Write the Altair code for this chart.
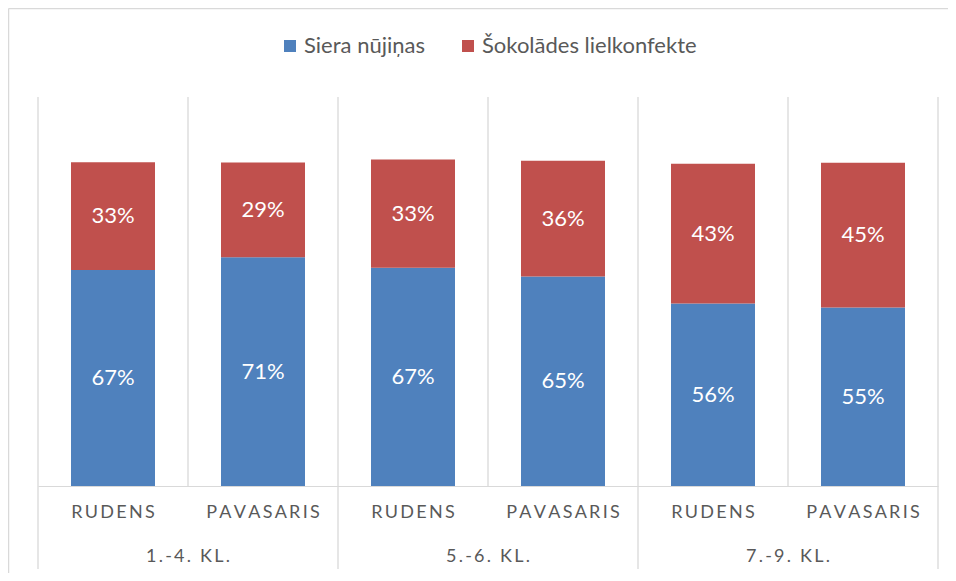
import altair as alt
import pandas as pd

# ---- data ----
groups = ["1.-4. KL.", "1.-4. KL.", "5.-6. KL.", "5.-6. KL.", "7.-9. KL.", "7.-9. KL."]
seasons = ["RUDENS", "PAVASARIS", "RUDENS", "PAVASARIS", "RUDENS", "PAVASARIS"]
series = ["Siera nūjiņas", "Šokolādes lielkonfekte"]
siera = [66.6, 70.6, 67.3, 64.6, 56.3, 55.1]
sokolade = [33.3, 29.2, 33.4, 35.7, 43.1, 44.6]
group_names = ["1.-4. KL.", "5.-6. KL.", "7.-9. KL."]
colors = ["#4F81BD", "#C0504D"]

keys = [f"{g}|{s}" for g, s in zip(groups, seasons)]
rows = []
for i, k in enumerate(keys):
    rows.append(dict(key=k, group=groups[i], season=seasons[i], series=series[0], value=siera[i], order=0))
    rows.append(dict(key=k, group=groups[i], season=seasons[i], series=series[1], value=sokolade[i], order=1))
df = pd.DataFrame(rows)

W, H = 900, 389
FONT = "Lato"
GRAY = "#595959"
GRID = "#D9D9D9"
SP = "\u2009"

xscale = alt.Scale(domain=keys, paddingInner=0, paddingOuter=0)
yscale = alt.Scale(domain=[0, 120])
xaxis = alt.Axis(
    title=None,
    labelExpr=f"join(split(split(datum.label,'|')[1],''),'{SP}')",
    labelFont=FONT, labelFontSize=18, labelColor=GRAY, labelPadding=17,
    labelAngle=0, ticks=False, grid=False, domainColor=GRID, domainWidth=1,
)


def xenc(band=0.5):
    return alt.X("key:N", scale=xscale, sort=keys, axis=xaxis, bandPosition=band)


bars = alt.Chart(df).mark_bar(width=alt.RelativeBandSize(0.56)).encode(
    x=alt.X("key:N", scale=xscale, sort=keys, axis=xaxis),
    y=alt.Y("value:Q", stack="zero", scale=yscale, axis=None),
    color=alt.Color(
        "series:N",
        scale=alt.Scale(domain=series, range=colors),
        legend=alt.Legend(
            title=None, orient="none", legendX=241, legendY=-62, direction="horizontal",
            symbolType="square", symbolSize=144, symbolStrokeWidth=0,
            labelFont=FONT, labelFontSize=22, labelColor=GRAY,
            labelOffset=3, labelLimit=400, columnPadding=32, padding=0,
        ),
    ),
    order=alt.Order("order:Q", sort="ascending"),
)

labels = alt.Chart(df).transform_stack(
    stack="value", groupby=["key"], sort=[alt.SortField("order")], as_=["y0", "y1"]
).transform_calculate(
    mid="(datum.y0 + datum.y1) / 2", txt="format(datum.value, '.0f') + '%'"
).mark_text(font=FONT, fontSize=22, color="white", baseline="middle").encode(
    x=alt.X("key:N", scale=xscale, sort=keys, axis=xaxis),
    y=alt.Y("mid:Q", scale=yscale, axis=None),
    text="txt:N",
)

inner_df = pd.DataFrame({"key": keys[1::2]})
sep_df = pd.DataFrame({"key": keys[0::2]})
end_df = pd.DataFrame({"key": keys[-1:]})

inner = alt.Chart(inner_df).mark_rule(color=GRID, strokeWidth=1.3).encode(
    x=xenc(0), y=alt.value(0), y2=alt.value(H))
seps = alt.Chart(sep_df).mark_rule(color=GRID, strokeWidth=1.3).encode(
    x=xenc(0), y=alt.value(0), y2=alt.value(472))
endline = alt.Chart(end_df).mark_rule(color=GRID, strokeWidth=1.3).encode(
    x=xenc(1), y=alt.value(0), y2=alt.value(472))

grp_df = pd.DataFrame({"key": keys[1::2], "group": group_names})
grp_labels = alt.Chart(grp_df).transform_calculate(
    lbl=f"join(split(datum.group,''),'{SP}')"
).mark_text(font=FONT, fontSize=18, color=GRAY, baseline="middle").encode(
    x=xenc(0), y=alt.value(460), text="lbl:N")

frame_df = pd.DataFrame({"a": [0]})
left_border = alt.Chart(frame_df).mark_rule(color=GRID, strokeWidth=1.5).encode(
    x=alt.value(-29.5), x2=alt.value(-29.5), y=alt.value(-88.5), y2=alt.value(476))
top_border = alt.Chart(frame_df).mark_rule(color=GRID, strokeWidth=1.5).encode(
    x=alt.value(-29.5), x2=alt.value(910), y=alt.value(-88.5), y2=alt.value(-88.5))

chart = alt.layer(
    left_border, top_border, inner, seps, endline, bars, labels, grp_labels
).properties(
    width=W, height=H,
    autosize=alt.AutoSizeParams(type="none"),
    padding={"left": 30, "top": 89, "right": 10, "bottom": 87},
).configure_view(stroke=None)

chart.save("out.html", embed_options={"renderer": "svg", "actions": False})
